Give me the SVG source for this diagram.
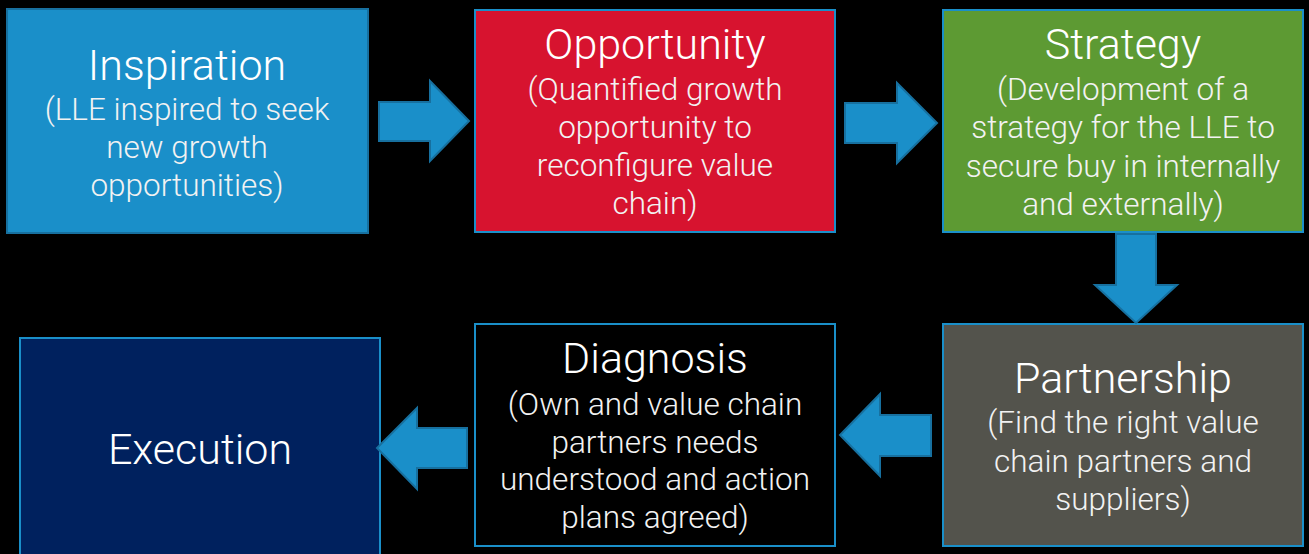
<svg xmlns="http://www.w3.org/2000/svg" width="1309" height="554" viewBox="0 0 1309 554">
  <style>
    .box { stroke: #1a8fc9; stroke-width: 2; }
    .title { font-family: "Roboto Light", Roboto, "Liberation Sans", sans-serif; font-weight: 300; font-size: 43px; fill: #ffffff; text-anchor: middle; }
    .body { font-family: "Roboto Light", Roboto, "Liberation Sans", sans-serif; font-weight: 300; font-size: 31.5px; fill: #f2f2f2; text-anchor: middle; }
    .arrow { fill: #1a8fc9; stroke: #17709f; stroke-width: 2; stroke-linejoin: miter; }
  </style>
  <rect width="1309" height="554" fill="#000000"/>

  <g id="inspiration">
    <rect x="7" y="9" width="361" height="224" fill="#1a8fc9" stroke="#17709f" stroke-width="2"/>
    <text class="title" x="187" y="80">Inspiration</text>
    <text class="body" x="187" y="120">(LLE inspired to seek</text>
    <text class="body" x="187" y="158">new growth</text>
    <text class="body" x="187" y="196">opportunities)</text>
  </g>

  <g id="opportunity">
    <rect class="box" x="475" y="10" width="360" height="222" fill="#d7132f"/>
    <text class="title" x="655" y="59">Opportunity</text>
    <text class="body" x="655" y="100">(Quantified growth</text>
    <text class="body" x="655" y="138">opportunity to</text>
    <text class="body" x="655" y="176">reconfigure value</text>
    <text class="body" x="655" y="214">chain)</text>
  </g>

  <g id="strategy">
    <rect class="box" x="943" y="10" width="360" height="222" fill="#5d9a33"/>
    <text class="title" x="1123" y="59">Strategy</text>
    <text class="body" x="1123" y="100">(Development of a</text>
    <text class="body" x="1123" y="138">strategy for the LLE to</text>
    <text class="body" x="1123" y="177">secure buy in internally</text>
    <text class="body" x="1123" y="215">and externally)</text>
  </g>

  <g id="partnership">
    <rect class="box" x="943" y="324" width="360" height="222" fill="#53534c"/>
    <text class="title" x="1123" y="393">Partnership</text>
    <text class="body" x="1123" y="433">(Find the right value</text>
    <text class="body" x="1123" y="472">chain partners and</text>
    <text class="body" x="1123" y="510">suppliers)</text>
  </g>

  <g id="diagnosis">
    <rect class="box" x="475" y="324" width="360" height="222" fill="#000000"/>
    <text class="title" x="655" y="373">Diagnosis</text>
    <text class="body" x="655" y="415">(Own and value chain</text>
    <text class="body" x="655" y="453">partners needs</text>
    <text class="body" x="655" y="490">understood and action</text>
    <text class="body" x="655" y="528">plans agreed)</text>
  </g>

  <g id="execution">
    <rect class="box" x="20" y="338" width="360" height="230" fill="#00215e"/>
    <text class="title" x="200" y="464">Execution</text>
  </g>

  <g id="connectors">
    <!-- Inspiration to Opportunity -->
    <polygon class="arrow" points="379,102 430,102 430,81 469,121 430,161 430,141 379,141"/>
    <!-- Opportunity to Strategy -->
    <polygon class="arrow" points="845,103 897,103 897,83 937,123 897,163 897,143 845,143"/>
    <!-- Strategy to Partnership -->
    <polygon class="arrow" points="1116,234 1156,234 1156,285 1177,285 1136,323 1095,285 1116,285"/>
    <!-- Partnership to Diagnosis -->
    <polygon class="arrow" points="931,415 880,415 880,394 840,435 880,476 880,456 931,456"/>
    <!-- Diagnosis to Execution -->
    <polygon class="arrow" points="467,428 417,428 417,408 377,448 417,489 417,468 467,468"/>
  </g>
</svg>
